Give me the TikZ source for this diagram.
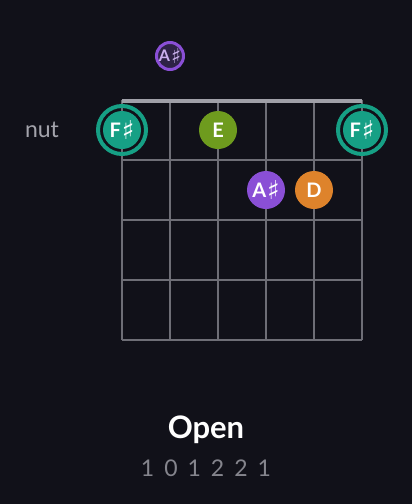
\documentclass[tikz,border=0pt]{standalone}
\usepackage{fontspec}
\setmainfont{Lato}
\newfontfamily\symfont{DejaVu Sans}
\usetikzlibrary{positioning}
\definecolor{bgcol}{HTML}{111119}
\definecolor{gridcol}{HTML}{6E6E76}
\definecolor{nutcol}{HTML}{A0A0A8}
\definecolor{tealcol}{HTML}{16A085}
\definecolor{greencol}{HTML}{6E9B1E}
\definecolor{purplecol}{HTML}{8A4FD6}
\definecolor{darkpurple}{HTML}{2E2246}
\definecolor{orangecol}{HTML}{DE832B}
\definecolor{labelcol}{HTML}{A4A4AC}
\definecolor{fingercol}{HTML}{85858D}
\newcommand{\sharpsym}{\hspace{1pt}\raisebox{-0.12em}{\symfont\fontseries{m}\selectfont\scalebox{1.3}{\char"266F}}}

\begin{document}
\begin{tikzpicture}[x=1pt,y=-1pt]

\tikzstyle{note} = [circle, minimum size=38pt, inner sep=0pt, text=white, font=\fontsize{20}{20}\selectfont\bfseries]
\tikzstyle{ring} = [line width=4pt]
\tikzstyle{gridline} = [draw=gridcol, line width=1.4pt]

% background
\fill[bgcol] (0,0) rectangle (412,504);
\useasboundingbox (0,0) rectangle (412,504);

%Fretboard grid

\foreach \s in {122,170,218,266,314,362}
  \draw[gridline] (\s,100) -- (\s,340);
\foreach \f in {160,220,280,340}
  \draw[gridline] (122,\f) -- (362,\f);

\draw[draw=nutcol, line width=4pt] (122,101) -- (362,101);

\node (nut_label) at (42,130) {\fontsize{23}{23}\selectfont\color{labelcol}nut};

%Open strings: on the nut

\node (low_f) [note, fill=tealcol] at (122,130) {F\sharpsym};
\draw[ring, tealcol] (low_f.center) circle (24);

\node (open_e) [note, fill=greencol] at (218,130) {E};

\node (high_f) [note, fill=tealcol] at (362,130) {F\sharpsym};
\draw[ring, tealcol] (high_f.center) circle (24);

%Muted string: above the nut

\node (muted_a) [circle, minimum size=27pt, inner sep=0pt, fill=darkpurple, draw=purplecol, line width=3pt,
  text=purplecol!45!white, font=\fontsize{16}{16}\selectfont\bfseries] at (170,56) {A\sharpsym};

%First fret

\node (fret_a) [note, fill=purplecol] at (266,190) {A\sharpsym};
\node (fret_d) [note, fill=orangecol] at (314,190) {D};

%Chord name and fingering

\node (chord_name) at (206,430) {\fontsize{31}{31}\selectfont\bfseries\color{white}Open};
\node (fingering) at (206,468) {\fontsize{23}{23}\selectfont\color{fingercol}1\hspace{10pt}0\hspace{10pt}1\hspace{10pt}2\hspace{10pt}2\hspace{10pt}1};

\end{tikzpicture}
\end{document}
